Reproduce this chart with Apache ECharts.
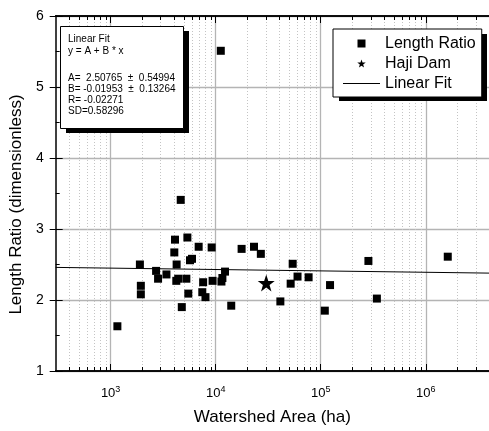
<!DOCTYPE html>
<html>
<head>
<meta charset="utf-8">
<script src="https://cdn.jsdelivr.net/npm/echarts@6/dist/echarts.min.js"></script>
<style>
  html, body { margin: 0; padding: 0; background: #fff; }
  #chartId { width: 489px; height: 431px; }
</style>
</head>
<body>
<div id="chartId"></div>
<script>
// watershed area (ha) and length ratio of each basin
const areaHa = [
    1160, 1900, 1940, 1940, 2710, 2830, 3400, 4100, 5380, 4040,
    6890, 4250, 5700, 5950, 4220, 4400, 5260, 5490, 4760, 7600,
    7460, 8000, 4650, 11190, 9160, 9350, 11350, 11590, 12280, 14070,
    17660, 23170, 26920, 54100, 60170, 51760, 76700, 41300, 109400, 122700,
    284500, 342600, 1620000
];
const lengthRatio = [
    1.63, 2.50, 2.20, 2.08, 2.41, 2.30, 2.36, 2.85, 2.88, 2.67,
    2.75, 2.50, 2.56, 2.58, 2.27, 2.30, 2.30, 2.09, 1.90, 2.25,
    2.11, 2.04, 3.41, 5.51, 2.74, 2.27, 2.26, 2.31, 2.40, 1.92,
    2.72, 2.75, 2.65, 2.51, 2.33, 2.23, 2.32, 1.98, 1.85, 2.21,
    2.55, 2.02, 2.61
];
const hajiArea = [30300];
const hajiRatio = [2.24];

// linear fit of ratio against log10(area)
const fitA = 2.50765;
const fitB = -0.01953;

const xMin = 300, xMax = 4e6;
const xMajor = [1e3, 1e4, 1e5, 1e6];
const xMinor = [];
for (let d = 100; d <= 1e6; d *= 10) {
    for (let k = 2; k <= 9; k++) {
        let v = k * d;
        if (v > xMin && v < xMax) xMinor.push(v);
    }
}

const font = "'Liberation Sans', Arial, sans-serif";
const square = 'path://M0,0H10V10H0Z';
const star = 'path://M50,0L61.8,35.1L98.1,35.1L68.8,56.7L79.4,91L50,70L20.6,91L31.2,56.7L1.9,35.1L38.2,35.1Z';

var chart = echarts.init(document.getElementById('chartId'));

function xAxisOf(pos, ticks, len, main){
    return {
        type: 'log',
        logBase: 10,
        min: xMin,
        max: xMax,
        position: pos,
        axisLine: { show: true, onZero: false, lineStyle: { color: '#000', width: 1.5 } },
        axisTick: { show: true, inside: true, length: len, customValues: ticks, lineStyle: { color: '#000', width: 1 } },
        axisLabel: main ? {
            customValues: xMajor,
            margin: 14,
            formatter: function(v){
                return '{b|10}{s|' + Math.round(Math.log10(v)) + '}';
            },
            rich: {
                b: { fontSize: 13, fontFamily: font, color: '#000' },
                s: { fontSize: 9, fontFamily: font, color: '#000', padding: [0, 0, 7, 0] }
            }
        } : { show: false },
        splitLine: { show: false },
        minorTick: { show: false }
    };
}

let xAxes = [
    xAxisOf('bottom', xMajor, 7, true),
    xAxisOf('bottom', xMinor, 4, false),
    xAxisOf('top', xMajor, 7, false),
    xAxisOf('top', xMinor, 4, false)
];
xAxes[0].name = 'Watershed Area (ha)';
xAxes[0].nameLocation = 'middle';
xAxes[0].nameGap = 38;
xAxes[0].nameTextStyle = { fontSize: 17, fontFamily: font, color: '#000' };
xAxes[0].splitLine = { show: true, lineStyle: { color: '#b4b4b4', width: 1.3 } };
xAxes[1].splitLine = { show: true, lineStyle: { color: '#c4c4c4', width: 1, type: [1, 2] } };

var option = {
    animation: false,
    backgroundColor: '#fff',
    grid: { left: 53, right: -9, top: 16, bottom: 55 },
    legend: {
        orient: 'vertical',
        left: 333,
        top: 29,
        padding: [6, 6, 5, 10],
        itemWidth: 37,
        itemHeight: 8,
        itemGap: 3,
        backgroundColor: '#fff',
        borderColor: '#000',
        borderWidth: 1,
        borderRadius: 0,
        textStyle: { fontSize: 16, fontFamily: font, color: '#000', lineHeight: 17 },
        data: [
            { name: 'Length Ratio' },
            { name: 'Haji Dam' },
            { name: 'Linear Fit', icon: 'path://M0,0H37V1H0Z' }
        ]
    },
    xAxis: xAxes,
    yAxis: [
        {
            type: 'value',
            min: 1,
            max: 6,
            interval: 1,
            position: 'left',
            name: 'Length Ratio (dimensionless)',
            nameLocation: 'middle',
            nameGap: 29,
            nameTextStyle: { fontSize: 17, fontFamily: font, color: '#000', padding: [0, 22, 0, 0] },
            axisLine: { show: true, lineStyle: { color: '#000', width: 1.5 } },
            axisTick: { show: true, inside: true, length: 7, lineStyle: { color: '#000' } },
            minorTick: { show: true, splitNumber: 2, length: 4, lineStyle: { color: '#000' } },
            axisLabel: { margin: 12, fontSize: 14, fontFamily: font, color: '#000' },
            splitLine: { show: true, lineStyle: { color: '#b4b4b4', width: 1.3 } }
        },
        {
            type: 'value',
            min: 1,
            max: 6,
            interval: 1,
            position: 'left',
            axisLine: { show: false },
            axisTick: { show: true, inside: false, length: 6, lineStyle: { color: '#000' } },
            axisLabel: { show: false },
            splitLine: { show: false }
        }
    ],
    graphic: [
        // legend drop shadow
        { type: 'rect', left: 339, top: 34, shape: { width: 148, height: 67 }, style: { fill: '#000' }, z: 1 },
        // fit statistics box
        { type: 'rect', left: 66, top: 31, shape: { width: 123, height: 102 }, style: { fill: '#000' }, z: 100 },
        { type: 'rect', left: 60, top: 26, shape: { width: 123, height: 102 }, style: { fill: '#fff', stroke: '#000', lineWidth: 1 }, z: 101 },
        { type: 'text', left: 68, top: 34, z: 102, style: { text: 'Linear Fit', fontSize: 10, fontFamily: font, fill: '#000' } },
        { type: 'text', left: 68, top: 46.5, z: 102, style: { text: 'y = A + B * x', fontSize: 10, fontFamily: font, fill: '#000' } },
        { type: 'text', left: 68, top: 73, z: 102, style: { text: 'A=  2.50765  \u00b1  0.54994', fontSize: 10, fontFamily: font, fill: '#000' } },
        { type: 'text', left: 68, top: 84, z: 102, style: { text: 'B= -0.01953  \u00b1  0.13264', fontSize: 10, fontFamily: font, fill: '#000' } },
        { type: 'text', left: 68, top: 95, z: 102, style: { text: 'R= -0.02271', fontSize: 10, fontFamily: font, fill: '#000' } },
        { type: 'text', left: 68, top: 106, z: 102, style: { text: 'SD=0.58296', fontSize: 10, fontFamily: font, fill: '#000' } }
    ],
    series: [
        {
            name: 'Linear Fit',
            type: 'line',
            symbol: 'none',
            lineStyle: { color: '#000', width: 1 },
            itemStyle: { color: '#000' },
            data: [xMin, xMax].map(x => [x, fitA + fitB * Math.log10(x)]),
            z: 2
        },
        {
            name: 'Length Ratio',
            type: 'scatter',
            symbol: square,
            symbolSize: 8,
            itemStyle: { color: '#000', opacity: 1 },
            data: areaHa.map((a, i) => [a, lengthRatio[i]]),
            z: 3
        },
        {
            name: 'Haji Dam',
            type: 'scatter',
            symbol: star,
            symbolSize: 17,
            itemStyle: { color: '#000', opacity: 1 },
            data: hajiArea.map((a, i) => [a, hajiRatio[i]]),
            z: 3
        }
    ]
};
chart.setOption(option);
</script>
</body>
</html>
